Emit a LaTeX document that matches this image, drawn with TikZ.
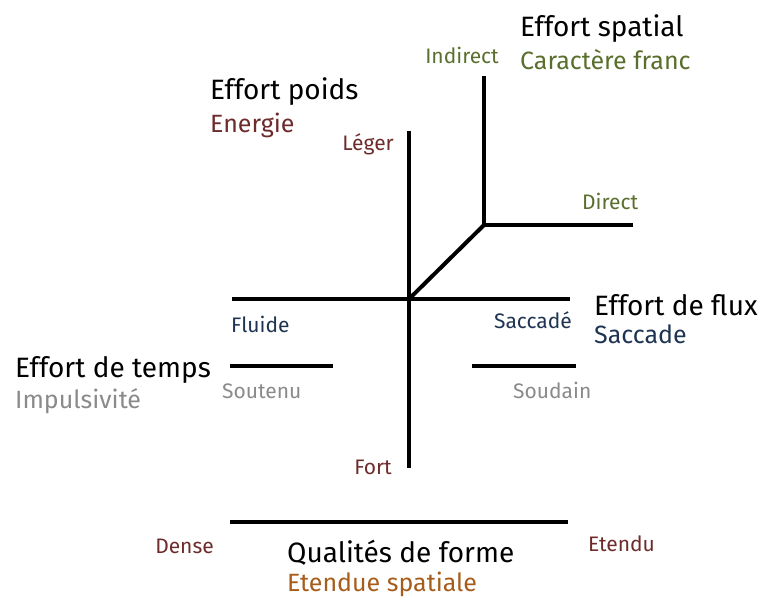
\documentclass[tikz,border=0pt]{standalone}
\usepackage{fontspec}
\setmainfont{Fira Sans}
\usetikzlibrary{positioning}
\definecolor{rougepoids}{HTML}{6E2B2B}
\definecolor{vertspatial}{HTML}{5A6E2D}
\definecolor{bleuflux}{HTML}{1E3452}
\definecolor{gristemps}{HTML}{8A8A8A}
\definecolor{orangeforme}{HTML}{A65C1A}

\begin{document}
\begin{tikzpicture}[x=1pt,y=-1pt,
	titre/.style={anchor=base west,inner sep=0pt,font=\fontsize{28}{31}\selectfont},
	soustitre/.style={anchor=base west,inner sep=0pt,font=\fontsize{25}{28}\selectfont},
	pole/.style={inner sep=0pt,font=\fontsize{21}{24}\selectfont},
	axe/.style={line width=4pt}]
	\useasboundingbox (0,0) rectangle (760,599);
	
	% effort poids
	\coordinate (haut-poids) at (409,131);
	\coordinate (bas-poids) at (409,468);
	\node[titre] (poids) at (210,100) {Effort poids};
	\node[soustitre,text=rougepoids] (energie) at (210,132) {Energie};
	\node[pole,anchor=base east,text=rougepoids] (leger) at (394,150) {Léger};
	\node[pole,anchor=base east,text=rougepoids] (fort) at (392,474) {Fort};
	
	% effort spatial
	\coordinate (haut-spatial) at (484,76);
	\coordinate (coude) at (484,225);
	\coordinate (bout-direct) at (633,225);
	\node[titre] (spatial) at (520,37) {Effort spatial};
	\node[soustitre,text=vertspatial] (franc) at (520,70) {Caractère franc};
	\node[pole,anchor=base east,text=vertspatial] (indirect) at (499,64) {Indirect};
	\node[pole,anchor=base west,text=vertspatial] (direct) at (582,209) {Direct};
	
	% effort de flux
	\coordinate (gauche-flux) at (232,299);
	\coordinate (centre) at (409,299);
	\coordinate (droite-flux) at (570,299);
	\node[titre] (flux) at (594,315) {Effort de flux};
	\node[soustitre,text=bleuflux] (saccade) at (594,343) {Saccade};
	\node[pole,anchor=base west,text=bleuflux] (fluide) at (231,332) {Fluide};
	\node[pole,anchor=base east,text=bleuflux] (saccadee) at (572,328) {Saccadé};
	
	% effort de temps
	\coordinate (temps-g1) at (230,366);
	\coordinate (temps-g2) at (333,366);
	\coordinate (temps-d1) at (472,366);
	\coordinate (temps-d2) at (576,366);
	\node[titre] (temps) at (15,377) {Effort de temps};
	\node[soustitre,text=gristemps] (impulsivite) at (15,408) {Impulsivité};
	\node[pole,anchor=base west,text=gristemps] (soutenu) at (222,398) {Soutenu};
	\node[pole,anchor=base west,text=gristemps] (soudain) at (513,398) {Soudain};
	
	% qualites de forme
	\coordinate (forme-g) at (230,522);
	\coordinate (forme-d) at (568,522);
	\node[titre] (forme) at (287,562) {Qualités de forme};
	\node[soustitre,text=orangeforme] (etendue) at (287,591) {Etendue spatiale};
	\node[pole,anchor=base east,text=rougepoids] (dense) at (214,553) {Dense};
	\node[pole,anchor=base west,text=rougepoids] (etendu) at (588,551) {Etendu};
	
	\draw[axe] (haut-poids) -- (bas-poids);
	\draw[axe] (gauche-flux) -- (droite-flux);
	\draw[axe] (haut-spatial) -- (coude) -- (bout-direct);
	\draw[axe] (centre) -- (coude);
	\draw[axe] (temps-g1) -- (temps-g2);
	\draw[axe] (temps-d1) -- (temps-d2);
	\draw[axe] (forme-g) -- (forme-d);
\end{tikzpicture}
\end{document}
